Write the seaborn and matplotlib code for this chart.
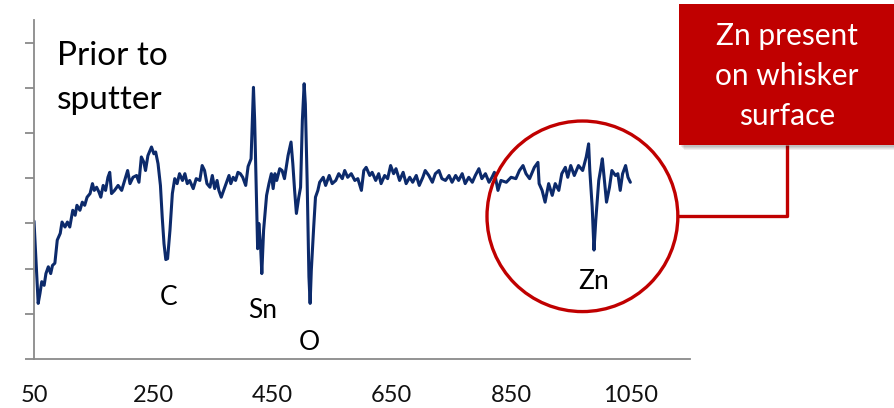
import matplotlib
matplotlib.use("Agg")
import matplotlib.pyplot as plt
from matplotlib.patches import Ellipse, Rectangle
import seaborn as sns
import pandas as pd

# ---- data ----
energy = [50, 53, 57, 60, 63, 67, 70, 74, 78, 81, 85, 89, 94, 97, 102, 106, 110, 115, 119, 122,
          127, 131, 135, 139, 144, 148, 151, 155, 159, 162, 166, 170, 174, 177, 180, 185, 191, 197,
          202, 207, 211, 216, 222, 226, 230, 234, 237, 241, 247, 251, 254, 258, 262, 265, 268, 271,
          274, 278, 282, 286, 290, 294, 299, 303, 307, 311, 317, 322, 328, 332, 336, 340, 345, 349,
          353, 357, 360, 364, 368, 373, 377, 380, 384, 388, 392, 396, 400, 405, 409, 414, 418, 420,
          423, 425, 427, 430, 432, 435, 440, 444, 448, 451, 454, 457, 462, 466, 470, 476, 481, 484,
          487, 490, 494, 497, 500, 503, 505, 508, 511, 513, 515, 519, 522, 526,
          529, 535, 539, 545, 550, 556, 561, 567, 571, 576, 582, 588, 593, 599, 603, 607, 613, 617,
          623, 628, 632, 638, 643, 648, 653, 657, 663, 669, 674, 680, 685, 691, 696, 702, 706, 712,
          718, 723, 729, 734, 740, 746, 751, 757, 762, 768, 773, 779, 785, 790, 796, 801, 807, 813,
          818, 822, 828, 833, 842, 850, 858, 864, 870, 875, 881, 889, 895, 897,
          902, 907, 913, 919, 924, 930, 935, 941, 945, 950, 956, 963, 970, 976, 980, 982, 986, 989,
          992, 997, 1001, 1003, 1007, 1010, 1015, 1019, 1025, 1029, 1033, 1037, 1042, 1046, 1050]
signal = [3.05, 2.26, 1.23, 1.45, 1.71, 1.63, 1.89, 2.04, 1.89, 2.07, 2.12, 2.63, 2.78, 3.03, 2.92,
          3.03, 2.92, 3.29, 3.18, 3.40, 3.29, 3.47, 3.40, 3.58, 3.66, 3.88, 3.73, 3.80, 3.69, 3.58,
          3.84, 3.73, 4.02, 4.13, 3.66, 3.73, 3.84, 3.73, 3.95, 4.17, 3.88, 4.02, 4.06, 3.91, 4.47,
          4.36, 4.17, 4.50, 4.69, 4.54, 4.58, 4.32, 3.84, 3.14, 2.55, 2.20, 2.22, 2.85, 3.66, 3.99,
          3.88, 4.10, 3.95, 4.10, 3.88, 3.95, 3.77, 3.99, 3.95, 4.28, 4.17, 3.88, 3.80, 4.06, 3.77,
          3.95, 3.73, 3.58, 3.73, 3.91, 4.06, 3.88, 4.02, 3.95, 4.13, 4.10, 4.02, 3.84, 4.26, 4.43,
          6.01, 5.28, 3.58, 2.44, 3.00, 2.48, 1.89, 2.85, 3.62, 3.88, 4.10, 3.77, 4.10, 3.95, 4.21,
          4.17, 3.99, 4.50, 4.80, 4.32, 3.73, 3.22, 3.58, 3.80, 5.28, 6.09, 5.64, 3.95, 1.82, 1.23,
          1.96, 2.92, 3.58, 3.73,
          3.91, 4.02, 3.84, 4.06, 3.88, 3.95, 4.10, 3.99, 4.17, 4.02, 4.10, 3.95, 3.99, 3.73, 4.17,
          4.24, 4.06, 4.13, 3.95, 4.10, 3.88, 4.06, 3.99, 4.28, 4.10, 4.21, 3.95, 4.13, 3.88, 4.02,
          3.91, 4.06, 3.84, 4.02, 4.17, 4.06, 3.91, 4.10, 4.17, 3.99, 3.95, 4.06, 3.91, 4.06, 3.95,
          4.10, 3.88, 4.02, 3.91, 4.06, 4.21, 3.99, 4.10, 3.91, 4.02,
          4.13, 3.73, 3.95, 3.91, 4.02, 3.99, 4.17, 4.28, 4.10, 3.99, 4.24,
          4.35, 3.88, 3.73, 3.47, 3.88, 3.62, 3.88, 3.73, 4.10, 4.24, 4.02, 4.28, 4.06, 4.28, 4.17,
          4.47, 4.76, 4.17, 3.36, 2.41, 3.07, 3.95, 4.26, 4.43, 3.88, 3.47, 3.80, 4.17, 4.06, 4.10,
          3.73, 4.10, 4.28, 4.02, 3.91]
x_ticks = [50, 250, 450, 650, 850, 1050]
peak_labels = ["C", "Sn", "O", "Zn"]
peak_label_x = [276, 433, 511, 988]
peak_label_y = [1.19, 0.905, 0.20, 1.545]
title_lines = ["Prior to", "sputter"]
callout_lines = ["Zn present", "on whisker", "surface"]

df = pd.DataFrame({"energy": energy, "signal": signal})

sns.set_style("white")
plt.rcParams["font.family"] = ["Lato", "DejaVu Sans"]

W, H = 894, 408
fig = plt.figure(figsize=(W / 100, H / 100), dpi=100)
ax = fig.add_axes([34 / W, 1 - 359 / H, 656 / W, 339 / H])

navy = "#0c2a6b"
red = "#c00000"
grey = "#8a8a8a"

sns.lineplot(data=df, x="energy", y="signal", ax=ax, color=navy, linewidth=2.2, legend=False)

ax.set_xlim(50, 1150)
ax.set_ylim(0, 7.5)
ax.set_xticks(x_ticks)
ax.set_xticklabels([str(t) for t in x_ticks], fontsize=17, color="#111111")
ax.set_yticks(range(0, 8))
ax.set_yticklabels([])
ax.set_xlabel("")
ax.set_ylabel("")
for side in ["top", "right"]:
    ax.spines[side].set_visible(False)
for side in ["left", "bottom"]:
    ax.spines[side].set_color(grey)
    ax.spines[side].set_linewidth(1.3)
ax.tick_params(axis="both", direction="out", length=6.5, width=1.3, color=grey)
ax.tick_params(axis="x", pad=12)
ax.tick_params(axis="y", left=True)

# title text inside plot
ax.text(88.5, 6.51, title_lines[0], fontsize=24, ha="left", va="baseline", color="black")
ax.text(88.5, 5.52, title_lines[1], fontsize=24, ha="left", va="baseline", color="black")

for lab, lx, ly in zip(peak_labels, peak_label_x, peak_label_y):
    ax.text(lx, ly, lab, fontsize=19, ha="center", va="baseline", color="black", clip_on=False)

# red circle around Zn region
circ = Ellipse((969.6, 3.157), width=320, height=4.216, fill=False, edgecolor=red,
               linewidth=2.4, clip_on=False, zorder=5)
ax.add_patch(circ)

# connector line
ax.plot([1128.7, 1313, 1313], [3.157, 3.157, 4.724], color=red, linewidth=2.4,
        clip_on=False, zorder=5, solid_capstyle="butt")

# callout box with soft shadow
bx0, by0, bx1, by1 = 679, 4, 896, 145
for i, a in enumerate([0.06, 0.06, 0.07, 0.08]):
    off = 5 - i
    fig.patches.append(Rectangle(((bx0 + off) / W, 1 - (by1 + off) / H),
                                 (bx1 - bx0) / W, (by1 - by0) / H,
                                 transform=fig.transFigure, facecolor="black",
                                 edgecolor="none", alpha=a, zorder=8))
fig.patches.append(Rectangle((bx0 / W, 1 - by1 / H), (bx1 - bx0) / W, (by1 - by0) / H,
                             transform=fig.transFigure, facecolor=red, edgecolor="none",
                             zorder=9))
for line, base in zip(callout_lines, [45, 85, 125]):
    fig.text(787 / W, 1 - base / H, line, fontsize=21.5, color="white", ha="center",
             va="baseline", zorder=10)

fig.savefig("out.png", dpi=100)
